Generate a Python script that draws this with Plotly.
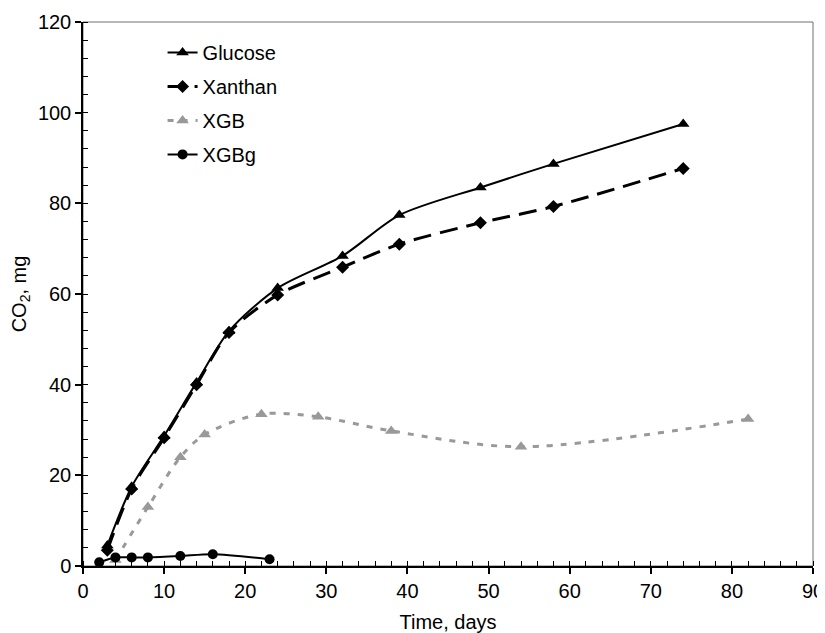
import plotly.graph_objects as go

# Data
glucose_days = [3, 6, 10, 14, 18, 24, 32, 39, 49, 58, 74]
glucose_co2 = [4.5, 17.5, 28.7, 40.5, 51.8, 61.3, 68.4, 77.4, 83.5, 88.7, 97.5]

xanthan_days = [3, 6, 10, 14, 18, 24, 32, 39, 49, 58, 74]
xanthan_co2 = [3.5, 17.0, 28.3, 40.0, 51.5, 59.8, 65.9, 71.0, 75.7, 79.3, 87.7]

xgb_days = [4, 8, 12, 15, 22, 29, 38, 54, 82]
xgb_co2 = [1.3, 13.0, 24.0, 29.0, 33.5, 32.9, 29.8, 26.3, 32.4]

xgbg_days = [2, 4, 6, 8, 12, 16, 23]
xgbg_co2 = [0.8, 1.9, 1.9, 1.9, 2.2, 2.6, 1.5]

FONT = "Liberation Sans, Arial, sans-serif"
FS = 20

fig = go.Figure()
fig.add_trace(go.Scatter(
    x=glucose_days, y=glucose_co2, name="Glucose", mode="lines+markers",
    line=dict(color="black", width=2, shape="spline", smoothing=0.8),
    marker=dict(symbol="triangle-up", size=11, color="black"),
    legendgroup="g1"))
fig.add_trace(go.Scatter(
    x=xanthan_days, y=xanthan_co2, name="Xanthan", mode="lines+markers",
    line=dict(color="black", width=3, dash="18px,9px", shape="spline", smoothing=0.8),
    marker=dict(symbol="diamond", size=10, color="black"),
    legendgroup="g2"))
fig.add_trace(go.Scatter(
    x=xgb_days, y=xgb_co2, name="XGB", mode="lines+markers",
    line=dict(color="#999999", width=3, dash="6px,8px", shape="spline", smoothing=0.9),
    marker=dict(symbol="triangle-up", size=11, color="#999999"),
    legendgroup="g3"))
fig.add_trace(go.Scatter(
    x=xgbg_days, y=xgbg_co2, name="XGBg", mode="lines+markers",
    line=dict(color="black", width=2, shape="spline", smoothing=0.8),
    marker=dict(symbol="circle", size=10, color="black"),
    legendgroup="g4"))

fig.update_layout(
    width=817, height=625,
    margin=dict(l=75, r=12, t=14, b=67, autoexpand=False),
    paper_bgcolor="white", plot_bgcolor="white",
    font=dict(family=FONT, size=FS, color="black"),
    showlegend=True,
    legend=dict(x=0.109, y=0.980, xanchor="left", yanchor="top",
                bgcolor="rgba(0,0,0,0)", font=dict(size=FS),
                traceorder="grouped", tracegroupgap=5),
    xaxis=dict(range=[0, 90], dtick=10, tick0=0, showgrid=False, zeroline=False,
               automargin=False,
               showline=True, linecolor="black", linewidth=1.5,
               ticks="outside", ticklen=6, tickwidth=1.5, tickcolor="black",
               minor=dict(dtick=2, ticks="inside", ticklen=5, tickwidth=1, tickcolor="black"),
               title=dict(text="Time, days", font=dict(size=FS))),
    yaxis=dict(range=[0, 120], dtick=20, tick0=0, showgrid=False, zeroline=False,
               automargin=False,
               showline=True, linecolor="black", linewidth=1.5,
               ticks="outside", ticklen=6, tickwidth=1.5, tickcolor="black",
               minor=dict(dtick=4, ticks="inside", ticklen=5, tickwidth=1, tickcolor="black"),
               title=dict(text="CO<sub>2</sub>, mg", font=dict(size=FS))),
    xaxis2=dict(range=[0, 90], dtick=10, tick0=0, overlaying="x", anchor="y",
                automargin=False,
                showgrid=False, zeroline=False, showline=False, showticklabels=False,
                ticks="inside", ticklen=6, tickwidth=1.5, tickcolor="black"),
    yaxis2=dict(range=[0, 120], dtick=20, tick0=0, overlaying="y", anchor="x",
                automargin=False,
                showgrid=False, zeroline=False, showline=False, showticklabels=False,
                ticks="inside", ticklen=6, tickwidth=1.5, tickcolor="black"),
    shapes=[dict(type="rect", xref="paper", yref="paper", x0=0, y0=0, x1=1, y1=1,
                 line=dict(color="#707070", width=1), layer="below")],
)

fig.write_html("out.html")
